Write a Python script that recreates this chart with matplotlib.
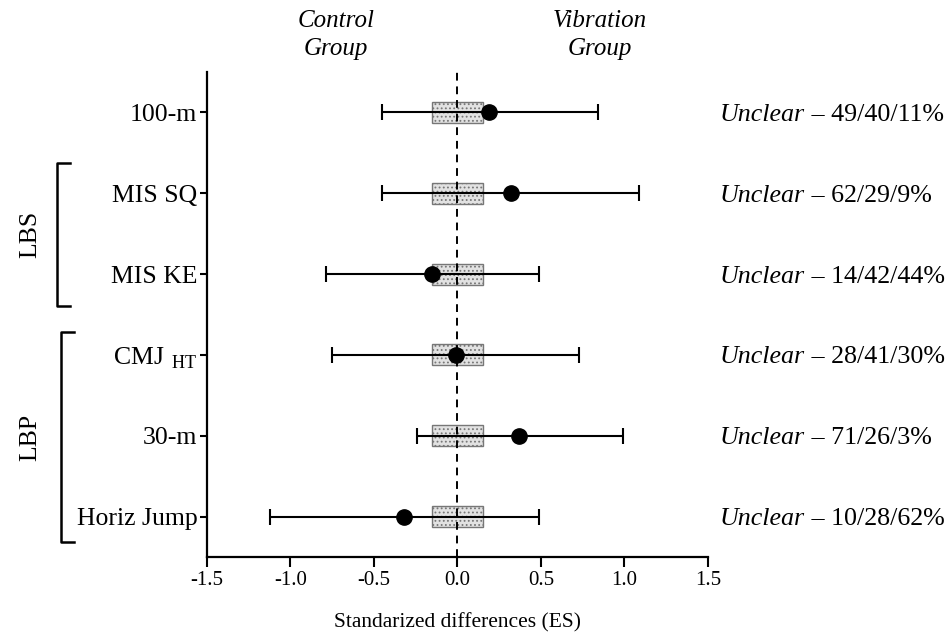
import matplotlib
matplotlib.use("Agg")
import matplotlib.pyplot as plt
from matplotlib import transforms

# data
outcomes = ["100-m", "MIS SQ", "MIS KE", r"CMJ$\ _{\mathrm{HT}}$", "30-m", "Horiz Jump"]
es = [0.19, 0.32, -0.15, -0.01, 0.37, -0.32]
ci_low = [-0.45, -0.45, -0.79, -0.75, -0.24, -1.12]
ci_high = [0.84, 1.085, 0.49, 0.73, 0.99, 0.49]
inference = ["49/40/11%", "62/29/9%", "14/42/44%", "28/41/30%", "71/26/3%", "10/28/62%"]
swc = 0.15  # smallest worthwhile change band
groups = [("LBS", 0.62, 2.40, 57), ("LBP", 2.72, 5.32, 61)]

plt.rcParams["font.family"] = ["Liberation Serif", "DejaVu Serif"]
plt.rcParams["mathtext.fontset"] = "custom"
plt.rcParams["mathtext.rm"] = "Liberation Serif"
plt.rcParams["hatch.color"] = "#8a8a8a"
plt.rcParams["hatch.linewidth"] = 0.8

fig = plt.figure(figsize=(9.53, 6.36), dpi=100)
ax = fig.add_axes([207 / 953, 1 - 557 / 636, 501 / 953, 485 / 636])

y = list(range(len(outcomes)))

ax.barh(y, 2 * swc, left=-swc, height=0.26, color="#e2e2e2", edgecolor="#777777",
        hatch="....", linewidth=1.0, zorder=2)
ax.axvline(0, color="black", linestyle=(0, (4, 3)), linewidth=1.4, zorder=3)

xerr = [[e - lo for e, lo in zip(es, ci_low)], [hi - e for e, hi in zip(es, ci_high)]]
ax.errorbar(es, y, xerr=xerr, fmt="o", color="black", markersize=11,
            elinewidth=1.5, capsize=6, capthick=1.5, zorder=4)

ax.set_xlim(-1.5, 1.5)
ax.set_ylim(5.5, -0.5)
ax.set_xticks([-1.5, -1.0, -0.5, 0.0, 0.5, 1.0, 1.5])
ax.set_xticklabels(["-1.5", "-1.0", "-0.5", "0.0", "0.5", "1.0", "1.5"], fontsize=15)
ax.set_yticks(y)
ax.set_yticklabels(outcomes, fontsize=18.5)
ax.tick_params(axis="x", length=7, width=1.5, pad=3)
ax.tick_params(axis="y", length=5, width=1.5, pad=2)
for side in ("top", "right"):
    ax.spines[side].set_visible(False)
for side in ("left", "bottom"):
    ax.spines[side].set_linewidth(1.6)

ax.set_xlabel("Standarized differences (ES)", fontsize=15.5, labelpad=17)

fig.text(336 / 953, 1 - 35 / 636, "Control\nGroup", ha="center", va="center",
         style="italic", fontsize=18, linespacing=1.4)
fig.text(600 / 953, 1 - 35 / 636, "Vibration\nGroup", ha="center", va="center",
         style="italic", fontsize=18, linespacing=1.4)

# magnitude-based inference labels on the right
trans = transforms.blended_transform_factory(fig.transFigure, ax.transData)
for yi, txt in zip(y, inference):
    t = ax.text(720 / 953, yi + 0.03, "Unclear", transform=trans,
                ha="left", va="center", style="italic", fontsize=18.7)
    ax.annotate(" \u2013 " + txt, xy=(1, 0), xycoords=t, ha="left", va="bottom", fontsize=18.7)

# group brackets
for name, y0, y1, xpx in groups:
    x0 = xpx / 953
    x1 = (xpx + 13) / 953
    ax.plot([x1, x0, x0, x1], [y0, y0, y1, y1], color="black", linewidth=1.8,
            transform=trans, clip_on=False)
    ax.text(30 / 953, (y0 + y1) / 2, name, rotation=90, ha="center", va="center",
            fontsize=18.5, transform=trans)

fig.savefig("out.png", dpi=100)
